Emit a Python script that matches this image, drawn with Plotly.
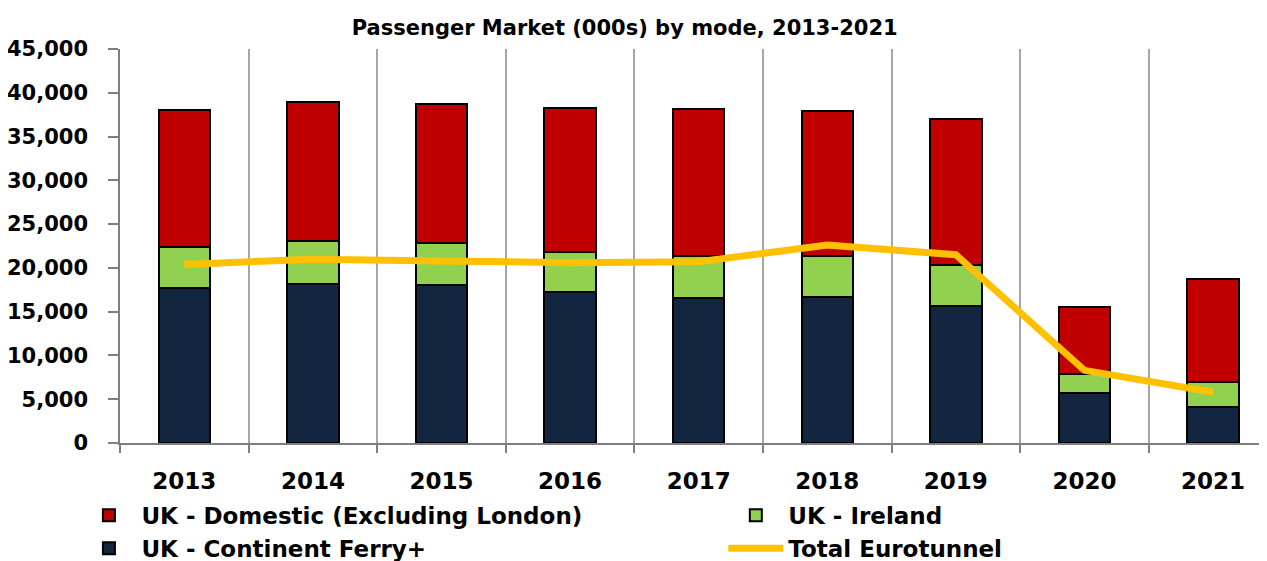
import plotly.graph_objects as go

years = ["2013", "2014", "2015", "2016", "2017", "2018", "2019", "2020", "2021"]
continent_ferry = [17700, 18200, 18000, 17200, 16600, 16700, 15600, 5700, 4150]
ireland = [4700, 4900, 4800, 4600, 4800, 4700, 4700, 2150, 2850]
domestic = [15600, 15900, 15900, 16500, 16700, 16550, 16700, 7650, 11700]
eurotunnel = [20400, 21000, 20800, 20600, 20700, 22600, 21500, 8300, 5800]

title_text = "Passenger Market (000s) by mode, 2013-2021"

fig = go.Figure()
bar_line = dict(color="black", width=2)
fig.add_trace(go.Bar(x=years, y=continent_ferry, name="UK - Continent Ferry+",
                     marker=dict(color="#12263F", line=bar_line), legend="legend", legendrank=2))
fig.add_trace(go.Bar(x=years, y=ireland, name="UK - Ireland",
                     marker=dict(color="#92D050", line=bar_line), legend="legend2", legendrank=1))
fig.add_trace(go.Bar(x=years, y=domestic, name="UK - Domestic (Excluding London)",
                     marker=dict(color="#C00000", line=bar_line), legend="legend", legendrank=1))
fig.add_trace(go.Scatter(x=years, y=eurotunnel, name="Total Eurotunnel", mode="lines",
                         line=dict(color="#FFC000", width=7), legend="legend2", legendrank=2))

legend_font = dict(family="DejaVu Sans", size=23, color="black", weight="bold")
common_legend = dict(orientation="v", yanchor="top", y=-0.129, xanchor="left",
                     traceorder="normal", font=legend_font, itemwidth=55,
                     tracegroupgap=0, bgcolor="rgba(0,0,0,0)")

fig.update_layout(
    width=1259, height=553,
    barmode="stack", bargap=0.6,
    plot_bgcolor="white", paper_bgcolor="white",
    margin=dict(l=112, r=0, t=41, b=118, autoexpand=False),
    title=dict(text=title_text, x=0.44, xref="paper", xanchor="center",
               y=1 - 20 / 553, yanchor="middle",
               font=dict(family="DejaVu Sans", size=21, color="black", weight="bold")),
    showlegend=True,
    legend=dict(x=-0.038, **common_legend),
    legend2=dict(x=0.526, **common_legend),
)
fig.update_xaxes(
    type="category", range=[-0.5, 8.42], tickson="boundaries",
    showgrid=True, gridcolor="#A6A6A6", gridwidth=1.5,
    showline=True, linecolor="#7F7F7F", linewidth=1.5,
    ticks="outside", ticklen=8, tickcolor="#7F7F7F", tickwidth=1.5,
    ticklabelstandoff=17,
    tickfont=dict(family="DejaVu Sans", size=23, color="black", weight="bold"),
)
fig.update_yaxes(
    range=[0, 45000], dtick=5000, tickformat=",",
    showgrid=False, zeroline=False,
    showline=True, linecolor="#7F7F7F", linewidth=1.5,
    ticks="outside", ticklen=10, tickcolor="#7F7F7F", tickwidth=1.5,
    ticklabelstandoff=16,
    tickfont=dict(family="DejaVu Sans", size=21, color="black", weight="bold"),
)

fig.write_html("out.html")
